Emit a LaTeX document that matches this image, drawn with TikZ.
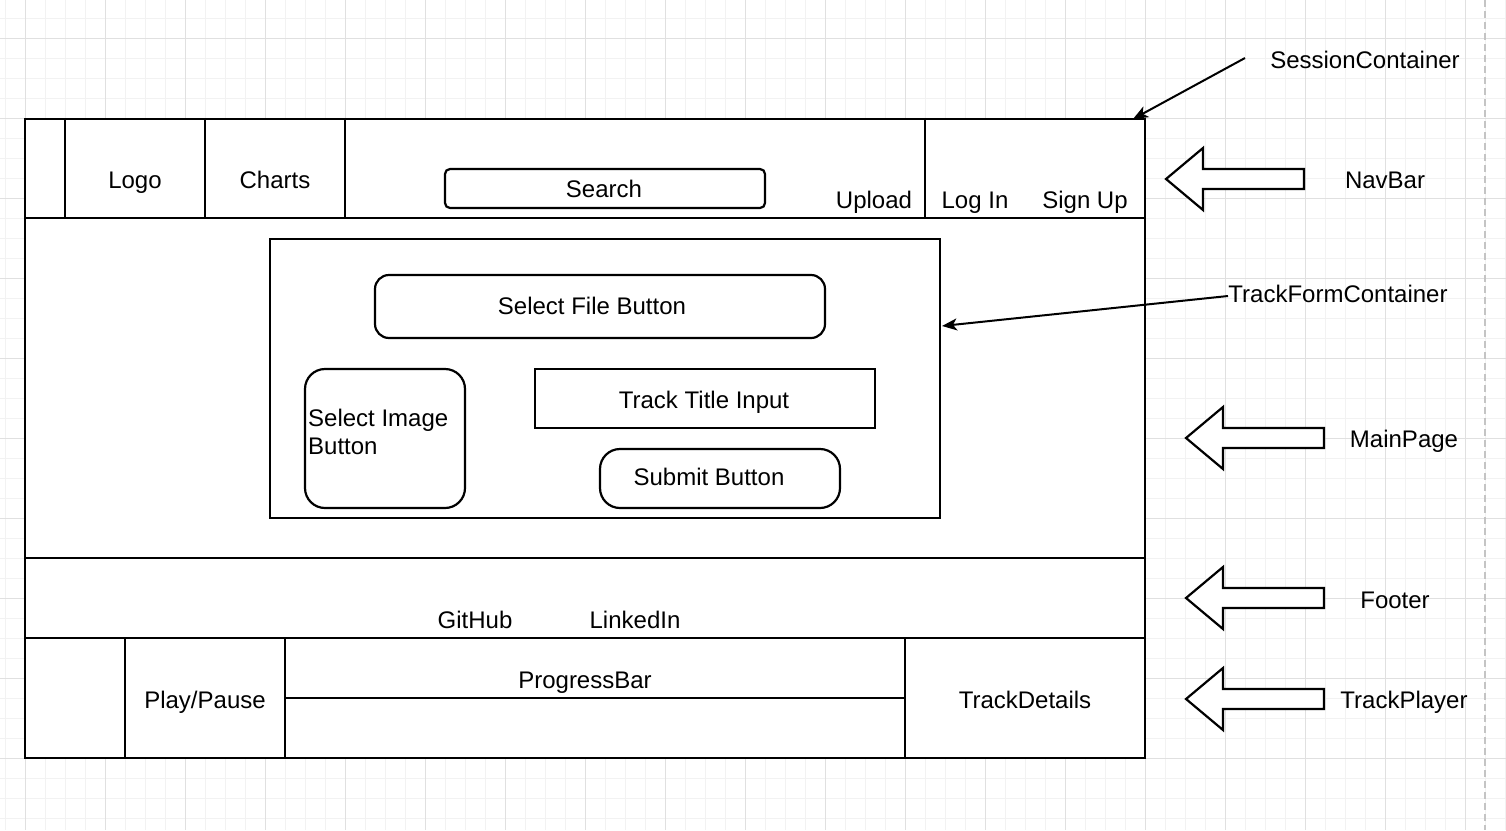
\documentclass[tikz,border=0pt]{standalone}
\usepackage{fontspec}
\setmainfont{Liberation Sans}
\usetikzlibrary{arrows.meta}
\definecolor{gridminor}{HTML}{F2F2F2}
\definecolor{gridmajor}{HTML}{E0E0E0}
\definecolor{sepline}{HTML}{C4C4C4}
\tikzset{
  box/.style={draw=black,line width=2.2pt,fill=white,inner sep=0pt,outer sep=0pt},
  rbox/.style={box,rounded corners=#1},
  rbox/.default=10pt,
  lbl/.style={font=\fontsize{24}{28}\selectfont,inner sep=0pt,anchor=base},
  conn/.style={line width=2pt,-{Stealth[length=15pt,width=12pt,inset=4pt]}},
  blockarrow/.pic={\draw[line width=2.2pt,fill=white,line join=miter]
    (0,0) -- (37,-31) -- (37,-10) -- (138,-10) -- (138,10) -- (37,10) -- (37,31) -- cycle;},
  frame/.style={line width=2.2pt}
}
\begin{document}
\begin{tikzpicture}[x=1pt,y=-1pt]
\useasboundingbox (0,0) rectangle (1506,830);
\fill[white] (0,0) rectangle (1506,830);
% grid
\foreach \x in {5,25,...,1505} \draw[gridminor,line width=1pt] (\x,0) -- (\x,830);
\foreach \y in {18,38,...,830} \draw[gridminor,line width=1pt] (0,\y) -- (1506,\y);
\foreach \x in {25,105,...,1505} \draw[gridmajor,line width=1pt] (\x,0) -- (\x,830);
\foreach \y in {38,118,...,830} \draw[gridmajor,line width=1pt] (0,\y) -- (1506,\y);
\draw[sepline,line width=1.5pt,dash pattern=on 7pt off 4pt] (1485,0) -- (1485,830);

% regions
\node[box,minimum width=1120pt,minimum height=639pt] (outer) at (585,438.5) {};
\node[box,minimum width=1120pt,minimum height=99pt] (navbar) at (585,168.5) {};
\node[box,minimum width=1120pt,minimum height=340pt] (mainpage) at (585,388) {};
\node[box,minimum width=1120pt,minimum height=80pt] (footer) at (585,598) {};
\node[box,minimum width=1120pt,minimum height=120pt] (player) at (585,698) {};

% navbar cells
\draw[frame] (65,119) -- (65,218);
\draw[frame] (205,119) -- (205,218);
\draw[frame] (345,119) -- (345,218);
\draw[frame] (925,119) -- (925,218);
% player cells
\draw[frame] (125,638) -- (125,758);
\draw[frame] (285,638) -- (285,758);
\draw[frame] (905,638) -- (905,758);
\draw[frame] (285,698) -- (905,698);

% navbar contents
\node[rbox=5pt,minimum width=320pt,minimum height=39pt] (search) at (605,188.5) {};
\node[lbl] (logo) at (135,188) {Logo};
\node[lbl] (charts) at (275,188) {Charts};
\node[lbl] (searchtxt) at (604,197) {Search};
\node[lbl] (upload) at (874,208) {Upload};
\node[lbl] (login) at (975,208) {Log In};
\node[lbl] (signup) at (1085,208) {Sign Up};

% track form
\node[box,minimum width=670pt,minimum height=279pt] (tfc) at (605,378.5) {};
\node[rbox=14pt,minimum width=450pt,minimum height=63pt] (selfile) at (600,306.5) {};
\node[rbox=20pt,minimum width=160pt,minimum height=139pt] (selimg) at (385,438.5) {};
\node[box,minimum width=340pt,minimum height=59pt] (title) at (705,398.5) {};
\node[rbox=20pt,minimum width=240pt,minimum height=59pt] (submit) at (720,478.5) {};
\node[lbl] (selfiletxt) at (592,314) {Select File Button};
\node[lbl,anchor=base west,align=left] (selimgtxt) at (308,454.5) {Select Image\\Button};
\node[lbl] (titletxt) at (704,408) {Track Title Input};
\node[lbl] (submittxt) at (709,485) {Submit Button};

% footer
\node[lbl] (github) at (475,628) {GitHub};
\node[lbl] (linkedin) at (635,628) {LinkedIn};

% player
\node[lbl] (playpause) at (205,708) {Play/Pause};
\node[lbl] (progress) at (585,688) {ProgressBar};
\node[lbl] (details) at (1025,708) {TrackDetails};

% right side labels
\node[lbl] (sc) at (1365,68) {SessionContainer};
\node[lbl] (navlbl) at (1385,188) {NavBar};
\node[lbl] (tfclbl) at (1338,302) {TrackFormContainer};
\node[lbl] (mainlbl) at (1404,447.5) {MainPage};
\node[lbl] (footlbl) at (1395,608) {Footer};
\node[lbl] (playlbl) at (1404,708) {TrackPlayer};

% block arrows
\pic at (1166,179) {blockarrow};
\pic at (1186,438) {blockarrow};
\pic at (1186,598) {blockarrow};
\pic at (1186,699) {blockarrow};

% connectors
\coordinate (scstart) at (1245,58);
\coordinate (tfcstart) at (1228,296);
\draw[conn] (scstart) -- ([xshift=-12pt]outer.north east);
\draw[conn] (tfcstart) -- ([xshift=2pt,yshift=52.5pt]tfc.east);
\end{tikzpicture}
\end{document}
